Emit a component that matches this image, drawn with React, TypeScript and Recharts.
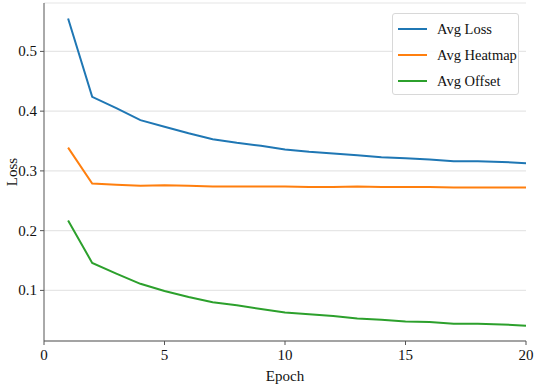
import React from 'react';
import { LineChart, Line, XAxis, YAxis, CartesianGrid, Legend } from 'recharts';

const epochs = [1, 2, 3, 4, 5, 6, 7, 8, 9, 10, 11, 12, 13, 14, 15, 16, 17, 18, 19, 20];
const avgLoss = [0.555, 0.424, 0.405, 0.385, 0.374, 0.363, 0.353, 0.347, 0.342, 0.336, 0.332, 0.329, 0.326, 0.323, 0.321, 0.319, 0.316, 0.316, 0.315, 0.313];
const avgHeatmap = [0.339, 0.279, 0.277, 0.275, 0.276, 0.275, 0.274, 0.274, 0.274, 0.274, 0.273, 0.273, 0.274, 0.273, 0.273, 0.273, 0.272, 0.272, 0.272, 0.272];
const avgOffset = [0.217, 0.146, 0.128, 0.111, 0.099, 0.089, 0.080, 0.075, 0.069, 0.063, 0.060, 0.057, 0.053, 0.051, 0.048, 0.047, 0.044, 0.044, 0.043, 0.041];
const xTicks = [0, 5, 10, 15, 20];
const yTicks = [0.1, 0.2, 0.3, 0.4, 0.5];

const seriesNames = ['Avg Loss', 'Avg Heatmap', 'Avg Offset'];
const seriesColors = ['#1f77b4', '#ff7f0e', '#2ca02c'];

const data = epochs.map((e, i) => ({
  epoch: e,
  loss: avgLoss[i],
  heatmap: avgHeatmap[i],
  offset: avgOffset[i],
}));

const FONT = '"Liberation Serif", "Times New Roman", serif';
const FS = 15;
const textStyle: React.CSSProperties = { fontFamily: FONT, fontSize: FS, fill: '#111' };

const LegendBox = () => (
  <div
    style={{
      position: 'absolute',
      left: 392,
      top: 13,
      width: 127,
      height: 82,
      border: '1px solid #d8d8d8',
      borderRadius: 3,
      background: 'rgba(255,255,255,0.85)',
      fontFamily: FONT,
      fontSize: 14.5,
      color: '#111',
      boxSizing: 'border-box',
      paddingTop: 2,
    }}
  >
    {seriesNames.map((n, i) => (
      <div key={n} style={{ display: 'flex', alignItems: 'center', height: 26, whiteSpace: 'nowrap' }}>
        <div style={{ marginLeft: 5, width: 29, height: 2, background: seriesColors[i] }} />
        <span style={{ marginLeft: 10 }}>{n}</span>
      </div>
    ))}
  </div>
);

const XTick = (props: any) => {
  const { x, y, payload } = props;
  return (
    <text x={x} y={y + 13} textAnchor="middle" style={textStyle}>
      {payload.value}
    </text>
  );
};

const YTick = (props: any) => {
  const { x, y, payload } = props;
  return (
    <text x={x - 1} y={y + 5} textAnchor="end" style={textStyle}>
      {String(payload.value)}
    </text>
  );
};

const XLabel = (props: any) => {
  const vb = props.viewBox;
  return (
    <text x={vb.x + vb.width / 2} y={vb.y + 40} textAnchor="middle" style={textStyle}>
      Epoch
    </text>
  );
};

const YLabel = (props: any) => {
  const vb = props.viewBox;
  const cx = vb.x + 17;
  const cy = vb.y + vb.height / 2;
  return (
    <text x={cx} y={cy} transform={`rotate(-90 ${cx} ${cy})`} textAnchor="middle" style={textStyle}>
      Loss
    </text>
  );
};

export default function App() {
  return (
    <div style={{ position: 'absolute', left: 0, top: 0, width: 535, height: 390, background: '#fff', fontFamily: FONT }}>
      <LineChart width={535} height={390} data={data} margin={{ top: 3, right: 9, bottom: 0, left: 0 }}>
        <CartesianGrid vertical={false} stroke="#e6e6e6" strokeWidth={1.2} />
        <XAxis
          dataKey="epoch"
          type="number"
          domain={[0, 20]}
          ticks={xTicks}
          height={49}
          tickSize={4}
          stroke="#555"
          tick={<XTick />}
          tickLine={{ stroke: '#555' }}
          label={<XLabel />}
        />
        <XAxis xAxisId="top" orientation="top" dataKey="epoch" type="number" domain={[0, 20]} height={0} tick={false} tickLine={false} stroke="#555" />
        <YAxis
          type="number"
          domain={[0.0153, 0.581]}
          ticks={yTicks}
          width={44}
          tickSize={4}
          stroke="#555"
          tick={<YTick />}
          label={<YLabel />}
        />
        <YAxis yAxisId="right" orientation="right" domain={[0.0153, 0.581]} width={0} tick={false} tickLine={false} stroke="#555" />
        <Legend content={() => null} />
        <Line type="linear" dataKey="loss" name={seriesNames[0]} stroke={seriesColors[0]} strokeWidth={2} dot={false} isAnimationActive={false} />
        <Line type="linear" dataKey="heatmap" name={seriesNames[1]} stroke={seriesColors[1]} strokeWidth={2} dot={false} isAnimationActive={false} />
        <Line type="linear" dataKey="offset" name={seriesNames[2]} stroke={seriesColors[2]} strokeWidth={2} dot={false} isAnimationActive={false} />
      </LineChart>
      <LegendBox />
    </div>
  );
}
